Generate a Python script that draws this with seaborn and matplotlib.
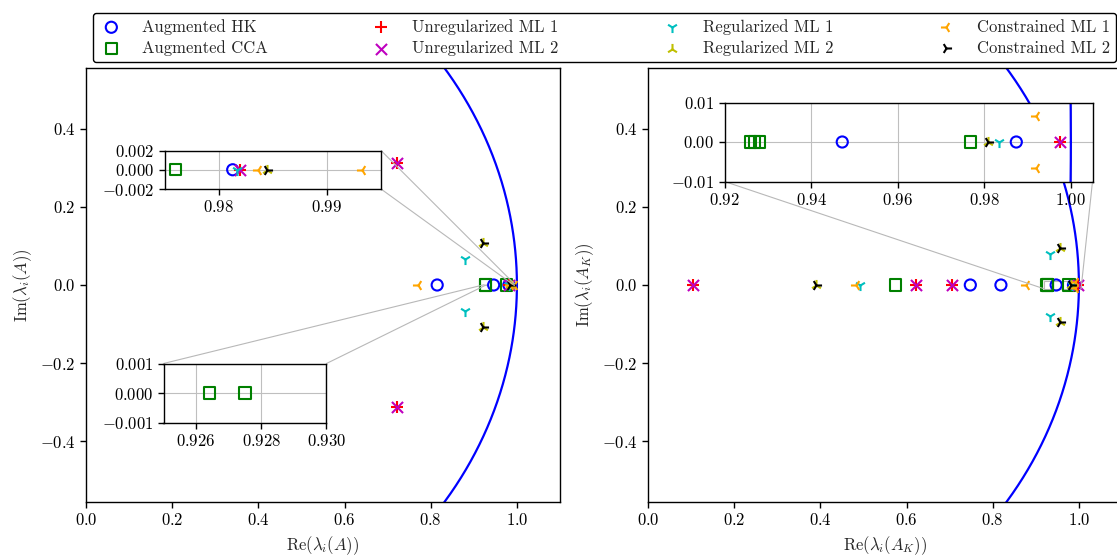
import numpy as np
import matplotlib
matplotlib.use("Agg")
import matplotlib.pyplot as plt
import seaborn as sns
from mpl_toolkits.axes_grid1.inset_locator import mark_inset

# ---------------- data ----------------
series_names = ["Augmented HK", "Augmented CCA", "Unregularized ML 1", "Unregularized ML 2",
                "Regularized ML 1", "Regularized ML 2", "Constrained ML 1", "Constrained ML 2"]
series_markers = ["o", "s", "+", "x", "1", "2", "3", "4"]
series_colors = ["b", "g", "r", "m", "c", "y", "orange", "k"]

# Eigenvalues of A (left panel)
hk_A_re = [0.815, 0.946, 0.9813]
hk_A_im = [0.0, 0.0, 0.0]
cca_A_re = [0.9264, 0.9275, 0.9760]
cca_A_im = [0.0, 0.0, 0.0]
unml1_A_re = [0.722, 0.722, 0.9820]
unml1_A_im = [0.313, -0.313, 0.0]
unml2_A_re = [0.722, 0.722, 0.9820]
unml2_A_im = [0.313, -0.313, 0.0]
regml1_A_re = [0.879, 0.879, 0.9817]
regml1_A_im = [0.067, -0.067, 0.0]
regml2_A_re = [0.921, 0.921, 0.9845]
regml2_A_im = [0.107, -0.107, 0.0]
conml1_A_re = [0.770, 0.9836, 0.9932]
conml1_A_im = [0.0, 0.0, 0.0]
conml2_A_re = [0.921, 0.921, 0.9845]
conml2_A_im = [0.107, -0.107, 0.0]

# Eigenvalues of A_K (right panel)
hk_K_re = [0.748, 0.819, 0.9472, 0.9874]
hk_K_im = [0.0, 0.0, 0.0, 0.0]
cca_K_re = [0.575, 0.9260, 0.9270, 0.9280, 0.9769]
cca_K_im = [0.0, 0.0, 0.0, 0.0, 0.0]
unml1_K_re = [0.104, 0.623, 0.706, 0.9974]
unml1_K_im = [0.0, 0.0, 0.0, 0.0]
unml2_K_re = [0.104, 0.623, 0.706, 0.9974]
unml2_K_im = [0.0, 0.0, 0.0, 0.0]
regml1_K_re = [0.491, 0.933, 0.933, 0.9835]
regml1_K_im = [0.0, 0.079, -0.079, 0.0]
regml2_K_re = [0.391, 0.956, 0.956, 0.9808]
regml2_K_im = [0.0, 0.095, -0.095, 0.0]
conml1_K_re = [0.483, 0.877, 0.9920, 0.9920]
conml1_K_im = [0.0, 0.0, 0.0067, -0.0067]
conml2_K_re = [0.391, 0.956, 0.956, 0.9808]
conml2_K_im = [0.0, 0.095, -0.095, 0.0]

A_series = [(hk_A_re, hk_A_im), (cca_A_re, cca_A_im), (unml1_A_re, unml1_A_im),
            (unml2_A_re, unml2_A_im), (regml1_A_re, regml1_A_im), (regml2_A_re, regml2_A_im),
            (conml1_A_re, conml1_A_im), (conml2_A_re, conml2_A_im)]
K_series = [(hk_K_re, hk_K_im), (cca_K_re, cca_K_im), (unml1_K_re, unml1_K_im),
            (unml2_K_re, unml2_K_im), (regml1_K_re, regml1_K_im), (regml2_K_re, regml2_K_im),
            (conml1_K_re, conml1_K_im), (conml2_K_re, conml2_K_im)]

# ---------------- style ----------------
sns.set_style("ticks")
plt.rcParams["font.family"] = ["cmr10", "DejaVu Serif"]
plt.rcParams["mathtext.fontset"] = "cm"
plt.rcParams["axes.formatter.use_mathtext"] = True
plt.rcParams["font.size"] = 12
plt.rcParams["axes.edgecolor"] = "black"
plt.rcParams["axes.linewidth"] = 1.0
plt.rcParams["xtick.color"] = "black"
plt.rcParams["ytick.color"] = "black"
plt.rcParams["xtick.labelsize"] = 12
plt.rcParams["ytick.labelsize"] = 12

W, H = 1117, 557
fig = plt.figure(figsize=(W / 100, H / 100), dpi=100)


def fa(x0, y0, x1, y1):
    return [x0 / W, 1 - y1 / H, (x1 - x0) / W, (y1 - y0) / H]


axL = fig.add_axes(fa(86, 68, 560, 502))
axR = fig.add_axes(fa(648, 68, 1122, 502))
insL1 = fig.add_axes(fa(164.5, 150.5, 381, 189))
insL2 = fig.add_axes(fa(163.5, 363.5, 326.5, 422.5))
insR = fig.add_axes(fa(724.5, 102.5, 1092.5, 181.5))

theta = np.linspace(0, 2 * np.pi, 4001)


def draw(ax, series, legend=False):
    ax.plot(np.cos(theta), np.sin(theta), color="b", lw=1.6, zorder=1)
    for (re, im), name, mk, col in zip(series, series_names, series_markers, series_colors):
        kw = dict(x=re, y=im, ax=ax, marker=mk, s=64, zorder=3,
                  label=name if legend else None)
        if mk in ("o", "s"):
            sns.scatterplot(color=col, facecolor="none", edgecolor=col, linewidth=1.5, **kw)
        else:
            sns.scatterplot(color=col, linewidth=1.5, **kw)
    if ax.get_legend() is not None:
        ax.get_legend().remove()


draw(axL, A_series, legend=True)
draw(axR, K_series)
draw(insL1, A_series)
draw(insL2, A_series)
draw(insR, K_series)

for ax in (axL, axR):
    ax.set_xlim(0, 1.1)
    ax.set_ylim(-0.555, 0.555)
    ax.set_xticks([0.0, 0.2, 0.4, 0.6, 0.8, 1.0])
    ax.set_yticks([-0.4, -0.2, 0.0, 0.2, 0.4])
    ax.tick_params(length=4, width=1)

axL.set_xlabel(r"$\mathrm{Re}(\lambda_i(A))$", fontsize=12)
axL.set_ylabel(r"$\mathrm{Im}(\lambda_i(A))$", fontsize=12)
axR.set_xlabel(r"$\mathrm{Re}(\lambda_i(A_K))$", fontsize=12)
axR.set_ylabel(r"$\mathrm{Im}(\lambda_i(A_K))$", fontsize=12)

insL1.set_xlim(0.975, 0.995)
insL1.set_ylim(-0.002, 0.002)
insL1.set_xticks([0.98, 0.99])
insL1.set_yticks([-0.002, 0.0, 0.002])

insL2.set_xlim(0.925, 0.930)
insL2.set_ylim(-0.001, 0.001)
insL2.set_xticks([0.926, 0.928, 0.930])
insL2.set_yticks([-0.001, 0.0, 0.001])

insR.set_xlim(0.92, 1.005)
insR.set_ylim(-0.01, 0.01)
insR.set_xticks([0.92, 0.94, 0.96, 0.98, 1.00])
insR.set_yticks([-0.01, 0.0, 0.01])

fmt = matplotlib.ticker.FuncFormatter
for ins in (insL1, insL2, insR):
    ins.grid(True, color="0.75", lw=0.8)
    ins.set_axisbelow(True)
    ins.tick_params(length=4, width=1)
insL1.xaxis.set_major_formatter(fmt(lambda v, p: "$%.2f$" % v))
insL1.yaxis.set_major_formatter(fmt(lambda v, p: "$%.3f$" % v))
insL2.xaxis.set_major_formatter(fmt(lambda v, p: "$%.3f$" % v))
insL2.yaxis.set_major_formatter(fmt(lambda v, p: "$%.3f$" % v))
insR.xaxis.set_major_formatter(fmt(lambda v, p: "$%.2f$" % v))
insR.yaxis.set_major_formatter(fmt(lambda v, p: "$%.2f$" % v))

mark_inset(axL, insL1, loc1=1, loc2=4, fc="none", ec="0.72", lw=0.8)
mark_inset(axL, insL2, loc1=2, loc2=1, fc="none", ec="0.72", lw=0.8)
mark_inset(axR, insR, loc1=3, loc2=4, fc="none", ec="0.72", lw=0.8)

handles, labels = axL.get_legend_handles_labels()
leg = fig.legend(handles, labels, ncol=4, loc="upper left",
                 bbox_to_anchor=(93 / W, 1 - 13 / H),
                 frameon=True, fancybox=True, edgecolor="black", framealpha=1,
                 fontsize=12, handlelength=1.5, handletextpad=1.1, columnspacing=6.05,
                 borderaxespad=0, borderpad=0.35, labelspacing=0.35, scatterpoints=1)
leg.get_frame().set_linewidth(1.0)

fig.savefig("out.png", dpi=100)
